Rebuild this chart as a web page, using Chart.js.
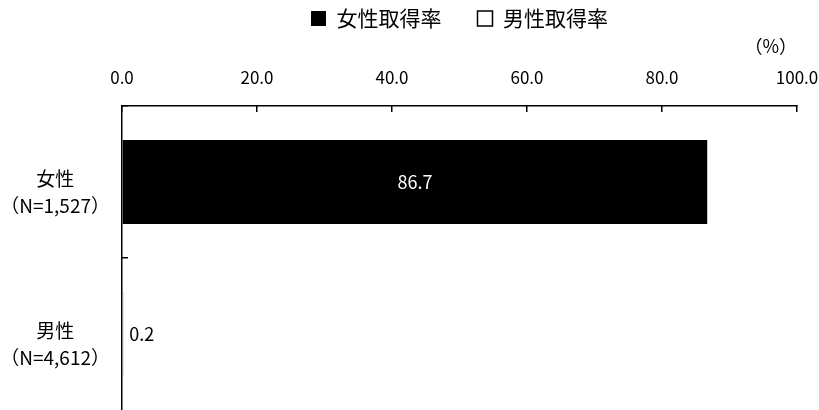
<!DOCTYPE html>
<html lang="ja">
<head>
<meta charset="utf-8">
<title>取得率</title>
<script src="https://cdn.jsdelivr.net/npm/chart.js@4.4.1/dist/chart.umd.min.js"></script>
<style>
    html, body { margin:0; padding:0; background:#fff; overflow:hidden; }
    #chart-wrap { position:relative; width:819px; height:410px; }
</style>
</head>
<body>
<div id="chart-wrap"><canvas id="rate-chart"></canvas></div>
<script>
const categories  = [['女性', '（N=1,527）'], ['男性', '（N=4,612）']];
const seriesNames = ['女性取得率', '男性取得率'];
const femaleRate  = [86.7, null];
const maleRate    = [null, 0.2];
const axisMax     = 100;
const axisStep    = 20;

const FONT = '"Noto Sans CJK JP", "Noto Sans", sans-serif';
Chart.defaults.font.family = FONT;
Chart.defaults.color = '#000';

// value labels: white inside a long bar, black just past the end of a short one
const barValueLabels = {
    id: 'barValueLabels',
    afterDatasetsDraw(chart) {
        const ctx = chart.ctx;
        ctx.save();
        ctx.font = `18px ${FONT}`;
        ctx.textBaseline = 'middle';
        chart.data.datasets.forEach((ds, i) => {
            chart.getDatasetMeta(i).data.forEach((bar, j) => {
                const v = ds.data[j];
                if (v == null) return;
                const text = v.toFixed(1);
                if (v >= 10) {
                    ctx.fillStyle = '#fff';
                    ctx.textAlign = 'center';
                    ctx.fillText(text, (bar.base + bar.x) / 2, bar.y);
                } else {
                    ctx.fillStyle = '#000';
                    ctx.textAlign = 'left';
                    ctx.fillText(text, bar.x + 6, bar.y);
                }
            });
        });
        ctx.restore();
    }
};

new Chart(document.getElementById('rate-chart'), {
    type: 'bar',
    data: {
        labels: categories,
        datasets: [
            { label: seriesNames[0], data: femaleRate, backgroundColor: '#000', borderColor: '#000', borderWidth: 0,   skipNull: true },
            { label: seriesNames[1], data: maleRate,   backgroundColor: '#fff', borderColor: '#000', borderWidth: 1.5, skipNull: true },
        ]
    },
    options: {
        indexAxis: 'y',
        responsive: true, maintainAspectRatio: false, animation: false,
        categoryPercentage: 0.554, barPercentage: 1,
        layout: { padding: { top: -28, right: 22, bottom: 0, left: 0 } },
        plugins: {
            legend: {
                position: 'top', fullSize: false,
                labels: { boxWidth: 15, boxHeight: 15, padding: 36, color: '#000', font: { size: 21 } }
            },
            tooltip: { enabled: false }
        },
        scales: {
            x: {
                position: 'top', min: 0, max: axisMax,
                ticks: { stepSize: axisStep, padding: 24, color: '#000', font: { size: 17 }, callback: v => v.toFixed(1) },
                grid: { drawOnChartArea: false, tickLength: -6, color: '#000', lineWidth: 1.5 },
                border: { color: '#000', width: 1.5 },
                title: { display: true, text: '（%）', align: 'end', color: '#000', font: { size: 18 }, padding: { top: -4, bottom: 0 } },
                // tick padding is only for the labels, not for the edges of the plot
                afterFit(scale) { scale.height = 67; scale.paddingLeft = 0; scale.paddingRight = 0; }
            },
            y: {
                ticks: { color: '#000', font: { size: 19, lineHeight: 1.42 }, crossAlign: 'center', padding: 18, labelOffset: 10 },
                grid: {
                    drawOnChartArea: false, tickLength: -6, lineWidth: 1.5,
                    // only the mark between the two categories, none at the bottom edge
                    color: c => c.index < categories.length ? '#000' : 'rgba(0,0,0,0)'
                },
                border: { color: '#000', width: 1.5 },
                afterFit(scale) { scale.width = 122; scale.paddingTop = 0; scale.paddingBottom = 0; }
            }
        }
    },
    plugins: [barValueLabels]
});
</script>
</body>
</html>
